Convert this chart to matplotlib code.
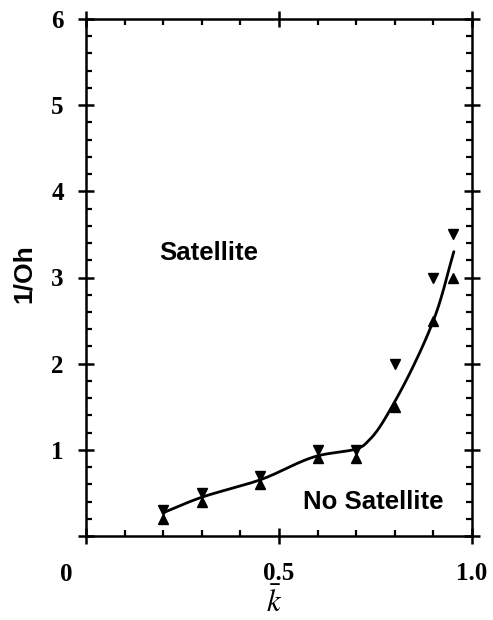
import numpy as np
import matplotlib
matplotlib.use("Agg")
import matplotlib.pyplot as plt
from matplotlib.ticker import MultipleLocator, FixedLocator

plt.rcParams["mathtext.fontset"] = "stix"

# Measured thresholds: upper (down-triangles) and lower (up-triangles) bounds
k_vals = [0.2, 0.3, 0.45, 0.6, 0.7, 0.8, 0.9, 0.95]
inv_oh_upper = [0.3, 0.5, 0.7, 1.0, 1.0, 2.0, 3.0, 3.5]
inv_oh_lower = [0.2, 0.4, 0.6, 0.9, 0.9, 1.5, 2.5, 3.0]

# Boundary curve between the two regimes
curve_k = [0.2, 0.3, 0.45, 0.6, 0.7, 0.735, 0.8, 0.9, 0.953]
curve_y = [0.27, 0.45, 0.65, 0.93, 1.01, 1.12, 1.56, 2.5, 3.3]

region_labels = [("Satellite", 0.318, 3.29), ("No Satellite", 0.744, 0.39)]


def centripetal_catmull_rom(xs, ys, n=25, alpha=0.5):
    pts = np.column_stack([xs, ys]).astype(float)
    pts = np.vstack([pts[0] * 2 - pts[1], pts, pts[-1] * 2 - pts[-2]])
    out = []
    for i in range(1, len(pts) - 2):
        p0, p1, p2, p3 = pts[i - 1], pts[i], pts[i + 1], pts[i + 2]
        t0 = 0.0
        t1 = t0 + np.linalg.norm(p1 - p0) ** alpha
        t2 = t1 + np.linalg.norm(p2 - p1) ** alpha
        t3 = t2 + np.linalg.norm(p3 - p2) ** alpha
        t = np.linspace(t1, t2, n, endpoint=False)[:, None]
        a1 = (t1 - t) / (t1 - t0) * p0 + (t - t0) / (t1 - t0) * p1
        a2 = (t2 - t) / (t2 - t1) * p1 + (t - t1) / (t2 - t1) * p2
        a3 = (t3 - t) / (t3 - t2) * p2 + (t - t2) / (t3 - t2) * p3
        b1 = (t2 - t) / (t2 - t0) * a1 + (t - t0) / (t2 - t0) * a2
        b2 = (t3 - t) / (t3 - t1) * a2 + (t - t1) / (t3 - t1) * a3
        c = (t2 - t) / (t2 - t1) * b1 + (t - t1) / (t2 - t1) * b2
        out.append(c)
    out.append(pts[-2][None, :])
    out = np.vstack(out)
    return out[:, 0], out[:, 1]


fig = plt.figure(figsize=(4.93, 6.2), dpi=100)
ax = fig.add_axes([86 / 493, 1 - 536 / 620, (472 - 86) / 493, (536 - 19) / 620])

sx, sy = centripetal_catmull_rom(curve_k, curve_y)
ax.plot(sx, sy, color="black", lw=2.0, solid_capstyle="round", zorder=3)
ax.plot(k_vals, inv_oh_upper, linestyle="none", marker="v", ms=6.5,
        color="black", zorder=4)
ax.plot(k_vals, inv_oh_lower, linestyle="none", marker="^", ms=6.5,
        color="black", zorder=4)

ax.set_xlim(0, 1.0)
ax.set_ylim(0, 6)

for sp in ax.spines.values():
    sp.set_linewidth(1.8)

ax.xaxis.set_major_locator(FixedLocator([0, 0.5, 1.0]))
ax.xaxis.set_minor_locator(MultipleLocator(0.1))
ax.yaxis.set_major_locator(MultipleLocator(1))
ax.yaxis.set_minor_locator(MultipleLocator(0.2))

ax.tick_params(which="major", direction="inout", length=12, width=1.8,
               top=True, right=True)
ax.tick_params(which="minor", direction="in", length=4, width=1.6,
               top=True, right=True)

tick_font = dict(family="Liberation Serif", weight="bold", size=18)
ax.set_xticks([0, 0.5, 1.0])
ax.set_xticklabels(["", "0.5", "1.0"], fontdict=tick_font)
ax.set_yticks([0, 1, 2, 3, 4, 5, 6])
ax.set_yticklabels(["", "1", "2", "3", "4", "5", "6"], fontdict=tick_font)
ax.tick_params(axis="x", which="major", pad=13)
ax.tick_params(axis="y", which="major", pad=10)

ax.annotate("0", xy=(0, 0), xycoords="data", xytext=(-14, -28),
            textcoords="offset points", ha="center", va="center", **tick_font)

fig.text(274 / 493, 1 - 612 / 620, r"$\bar{k}$", ha="center", va="baseline",
         fontsize=22)

fig.text(24 / 493, 1 - 274 / 620, "1/Oh", rotation=90, ha="center", va="center",
         fontsize=19, fontweight="bold", family="Liberation Sans")

for text, x, y in region_labels:
    ax.text(x, y, text, ha="center", va="center", fontsize=18.5,
            fontweight="bold", family="Liberation Sans")

fig.savefig("out.png", dpi=100)
